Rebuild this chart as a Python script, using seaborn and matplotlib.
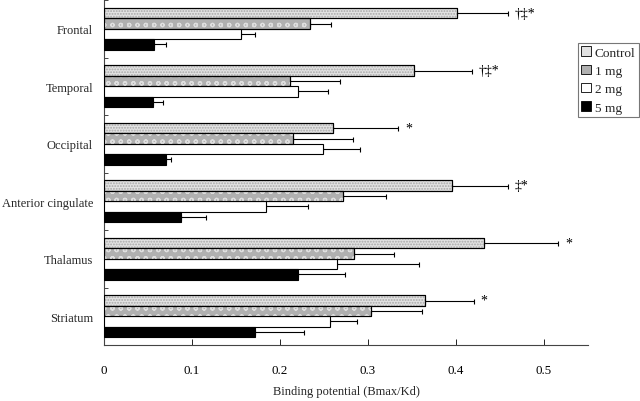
import matplotlib
matplotlib.use("Agg")
import matplotlib.pyplot as plt
import seaborn as sns
import pandas as pd
from matplotlib.patches import Rectangle, Patch
from matplotlib.ticker import FixedLocator

regions = ["Frontal", "Temporal", "Occipital", "Anterior cingulate", "Thalamus", "Striatum"]
doses = ["Control", "1 mg", "2 mg", "5 mg"]

control = [0.401, 0.352, 0.260, 0.395, 0.432, 0.365]
control_sem = [0.058, 0.066, 0.074, 0.064, 0.084, 0.055]
mg1 = [0.234, 0.211, 0.215, 0.272, 0.284, 0.303]
mg1_sem = [0.024, 0.057, 0.068, 0.049, 0.046, 0.058]
mg2 = [0.156, 0.221, 0.249, 0.184, 0.265, 0.257]
mg2_sem = [0.016, 0.033, 0.042, 0.048, 0.093, 0.031]
mg5 = [0.057, 0.056, 0.070, 0.0875, 0.221, 0.172]
mg5_sem = [0.013, 0.011, 0.006, 0.0285, 0.053, 0.055]

signif = ["†‡*", "†‡*", "*", "‡*", "*", "*"]
xticks = [0, 0.1, 0.2, 0.3, 0.4, 0.5]
xlabel = "Binding potential (Bmax/Kd)"

means = [control, mg1, mg2, mg5]
sems = [control_sem, mg1_sem, mg2_sem, mg5_sem]

rows = []
for d, vals in zip(doses, means):
    for r, v in zip(regions, vals):
        rows.append({"region": r, "dose": d, "value": v})
df = pd.DataFrame(rows)

sns.set_style("white")
plt.rcParams["font.family"] = ["Liberation Serif", "DejaVu Serif"]
plt.rcParams["hatch.linewidth"] = 0.9

fig = plt.figure(figsize=(6.4, 4.02), dpi=100)
ax = fig.add_axes([104 / 640, 56 / 402, 484 / 640, 345 / 402])

sns.barplot(data=df, y="region", x="value", hue="dose", order=regions,
            hue_order=doses, orient="h", width=0.73, errorbar=None,
            ax=ax, legend=False)

styles = [
    dict(face="#e2e2e2", hatch="......", hcol="#a8a8a8"),
    dict(face="#b0b0b0", hatch="oo", hcol="#dedede"),
    dict(face="white", hatch=None, hcol=None),
    dict(face="black", hatch=None, hcol=None),
]

for cont, st, sem in zip(ax.containers, styles, sems):
    xs, ys = [], []
    for p in cont.patches:
        p.set_facecolor(st["face"])
        p.set_edgecolor("black")
        p.set_linewidth(0.8)
        p.set_zorder(3)
        if st["hatch"]:
            ov = Rectangle((p.get_x(), p.get_y()), p.get_width(), p.get_height(),
                           facecolor="none", edgecolor=st["hcol"], hatch=st["hatch"],
                           linewidth=0, zorder=3.5)
            ax.add_patch(ov)
            outline = Rectangle((p.get_x(), p.get_y()), p.get_width(), p.get_height(),
                                facecolor="none", edgecolor="black", linewidth=0.8,
                                zorder=3.6)
            ax.add_patch(outline)
        xs.append(p.get_x() + p.get_width())
        ys.append(p.get_y() + p.get_height() / 2)
    ax.errorbar(xs, ys, xerr=[[0] * len(xs), sem], fmt="none", ecolor="black",
                elinewidth=0.8, capsize=1.8, capthick=0.8, zorder=2)

# significance markers on control bars
for p, s, sm, txt in zip(ax.containers[0].patches, control, control_sem, signif):
    ax.text(s + sm + 0.008, p.get_y() + p.get_height() / 2, txt,
            va="center", ha="left", fontsize=10, color="black")

ax.set_xlim(0, 0.55)
ax.set_ylim(len(regions) - 0.5, -0.5)
ax.set_xticks(xticks)
ax.set_xticklabels([("%g" % t) for t in xticks], fontsize=9.4)
ax.tick_params(axis="x", direction="in", length=4, width=0.6, pad=14,
               bottom=True, colors="black")
ax.yaxis.set_minor_locator(FixedLocator([i + 0.5 for i in range(-1, len(regions))]))
ax.tick_params(axis="y", which="major", length=0, pad=8, labelsize=9)
ax.tick_params(axis="y", which="minor", direction="in", length=3, width=0.6, left=True)
ax.set_ylabel("")
ax.set_xlabel(xlabel, fontsize=9, labelpad=6)

for side in ["top", "right"]:
    ax.spines[side].set_visible(False)
for side in ["left", "bottom"]:
    ax.spines[side].set_color("#444444")
    ax.spines[side].set_linewidth(0.8)

handles = []
for d, st in zip(doses, styles):
    handles.append(Patch(facecolor=st["face"], edgecolor="black", linewidth=0.6,
                         label=d))
leg = fig.legend(handles=handles, loc="upper left", bbox_to_anchor=(578 / 640, 1 - 44 / 402),
                 fontsize=9.6, frameon=True, fancybox=False, edgecolor="#555555",
                 handlelength=0.7, handleheight=0.7, handletextpad=0.3,
                 borderpad=0.25, labelspacing=0.45, borderaxespad=0)
leg.get_frame().set_linewidth(0.8)

fig.savefig("out.png", dpi=100)
